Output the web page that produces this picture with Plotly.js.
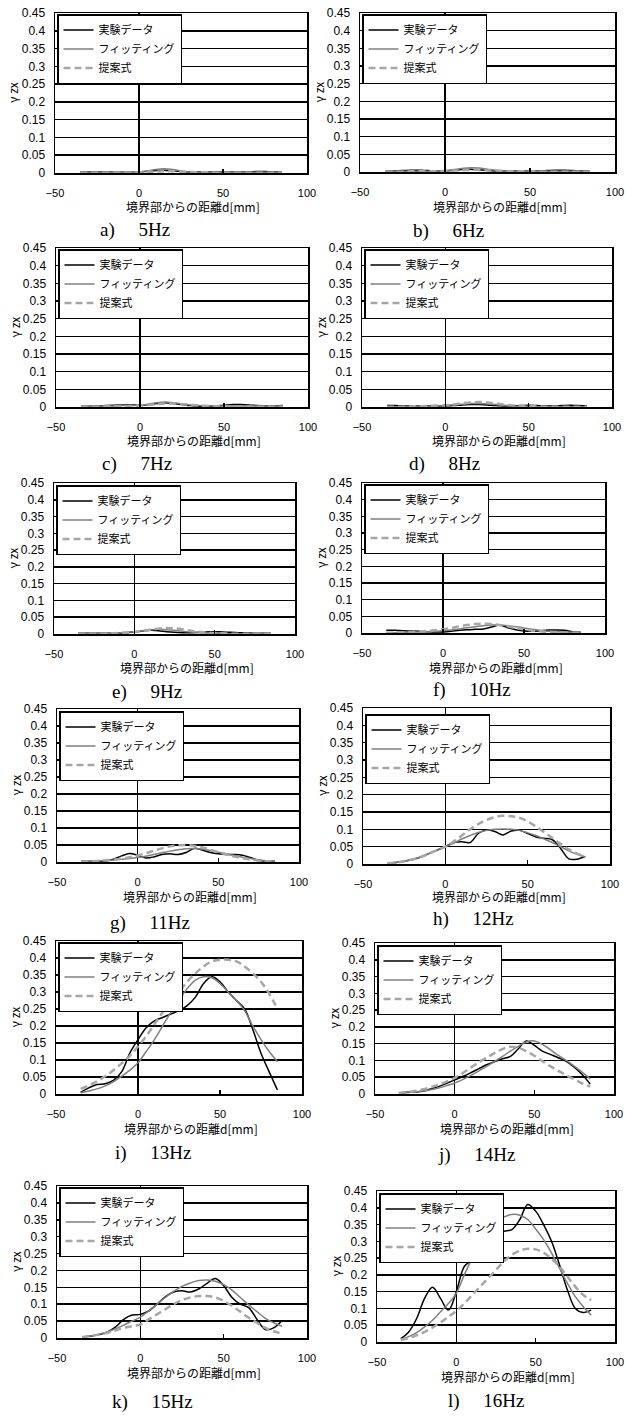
<!DOCTYPE html>
<html><head><meta charset="utf-8">
<script src="https://cdn.plot.ly/plotly-3.0.1.min.js"></script>
<style>html,body{margin:0;padding:0;background:#fff}#chart{width:626px;height:1419px}</style>
</head><body><div id="chart"></div>
<script>
// ---------- data ----------
const distance = [-35,-30,-25,-20,-15,-10,-5,0,5,10,15,20,25,30,35,40,45,50,55,60,65,70,75,80,85];
const panelLabels = ['a)','b)','c)','d)','e)','f)','g)','h)','i)','j)','k)','l)'];
const frequencies = ['5Hz','6Hz','7Hz','8Hz','9Hz','10Hz','11Hz','12Hz','13Hz','14Hz','15Hz','16Hz'];
const seriesNames = ['実験データ','フィッティング','提案式'];
const xTickVals = [-50,0,50,100];
const xTickText = ['−50','0','50','100'];
const yTickVals = [0,0.05,0.1,0.15,0.2,0.25,0.3,0.35,0.4,0.45];
const yTickText = ['0','0.05','0.1','0.15','0.2','0.25','0.3','0.35','0.4','0.45'];
const xAxisTitle = '境界部からの距離d[mm]';
const yAxisTitle = 'γ zx';

const exp5Hz  = [0.003,0.003,0.003,0.003,0.002,0.002,0.002,0.003,0.005,0.007,0.008,0.006,0.004,0.003,0.003,0.003,0.003,0.003,0.003,0.003,0.003,0.004,0.004,0.003,0.003];
const fit5Hz  = [0.002,0.002,0.002,0.002,0.002,0.002,0.002,0.003,0.006,0.010,0.012,0.010,0.006,0.003,0.002,0.002,0.002,0.002,0.002,0.002,0.002,0.002,0.002,0.002,0.002];
const prop5Hz = [0.001,0.001,0.001,0.001,0.001,0.001,0.001,0.002,0.003,0.004,0.005,0.005,0.004,0.003,0.002,0.002,0.001,0.001,0.001,0.001,0.001,0.001,0.001,0.001,0.001];

const exp6Hz  = [0.002,0.003,0.004,0.005,0.005,0.004,0.003,0.003,0.005,0.007,0.008,0.006,0.004,0.003,0.003,0.003,0.003,0.003,0.003,0.004,0.005,0.005,0.004,0.003,0.003];
const fit6Hz  = [0.002,0.002,0.002,0.002,0.002,0.002,0.002,0.004,0.007,0.010,0.012,0.011,0.008,0.005,0.003,0.002,0.002,0.002,0.002,0.002,0.002,0.002,0.002,0.002,0.002];
const prop6Hz = [0.001,0.001,0.001,0.002,0.002,0.002,0.002,0.003,0.004,0.005,0.006,0.006,0.005,0.004,0.003,0.002,0.002,0.002,0.001,0.001,0.001,0.001,0.001,0.001,0.001];

const exp7Hz  = [0.002,0.002,0.003,0.004,0.005,0.006,0.006,0.005,0.007,0.010,0.012,0.010,0.007,0.004,0.002,0.002,0.003,0.005,0.007,0.007,0.006,0.004,0.003,0.003,0.004];
const fit7Hz  = [0.002,0.002,0.002,0.003,0.003,0.004,0.004,0.005,0.008,0.012,0.014,0.012,0.009,0.006,0.004,0.003,0.003,0.003,0.003,0.003,0.003,0.003,0.003,0.003,0.003];
const prop7Hz = [0.001,0.001,0.001,0.002,0.002,0.003,0.003,0.004,0.006,0.008,0.010,0.010,0.008,0.006,0.004,0.003,0.002,0.002,0.001,0.001,0.001,0.001,0.001,0.001,0.001];

const exp8Hz  = [0.004,0.004,0.003,0.003,0.003,0.003,0.003,0.003,0.004,0.006,0.007,0.007,0.006,0.004,0.003,0.003,0.004,0.005,0.004,0.003,0.003,0.004,0.005,0.004,0.003];
const fit8Hz  = [0.001,0.001,0.001,0.002,0.002,0.002,0.003,0.004,0.006,0.008,0.010,0.010,0.009,0.007,0.005,0.003,0.002,0.002,0.001,0.001,0.001,0.001,0.001,0.001,0.001];
const prop8Hz = [0.001,0.001,0.001,0.002,0.002,0.003,0.004,0.005,0.007,0.010,0.013,0.014,0.013,0.010,0.007,0.005,0.003,0.002,0.002,0.001,0.001,0.001,0.001,0.001,0.001];

const exp9Hz  = [0.002,0.002,0.002,0.002,0.002,0.003,0.004,0.006,0.009,0.011,0.010,0.007,0.005,0.004,0.004,0.005,0.006,0.007,0.006,0.005,0.004,0.003,0.002,0.002,0.002];
const fit9Hz  = [0.001,0.001,0.001,0.002,0.002,0.003,0.005,0.007,0.010,0.013,0.014,0.013,0.011,0.008,0.006,0.004,0.003,0.002,0.001,0.001,0.001,0.001,0.001,0.001,0.001];
const prop9Hz = [0.001,0.001,0.001,0.001,0.002,0.003,0.004,0.006,0.009,0.013,0.016,0.018,0.017,0.014,0.010,0.007,0.004,0.003,0.002,0.001,0.001,0.001,0.001,0.001,0.001];

const exp10Hz  = [0.008,0.008,0.007,0.006,0.005,0.004,0.003,0.003,0.005,0.008,0.010,0.011,0.012,0.018,0.024,0.016,0.010,0.006,0.005,0.007,0.009,0.009,0.008,0.004,0.002];
const fit10Hz  = [0.001,0.001,0.002,0.002,0.003,0.004,0.005,0.007,0.009,0.012,0.016,0.019,0.022,0.024,0.024,0.022,0.019,0.015,0.011,0.008,0.005,0.004,0.003,0.002,0.001];
const prop10Hz = [0.001,0.001,0.002,0.003,0.004,0.006,0.008,0.011,0.015,0.020,0.024,0.027,0.028,0.027,0.024,0.020,0.015,0.011,0.007,0.005,0.003,0.002,0.001,0.001,0.001];

const exp11Hz  = [0.002,0.002,0.002,0.003,0.008,0.018,0.025,0.020,0.012,0.015,0.022,0.024,0.022,0.028,0.040,0.035,0.028,0.024,0.022,0.022,0.020,0.013,0.005,0.002,0.002];
const fit11Hz  = [0.001,0.002,0.003,0.004,0.006,0.008,0.010,0.013,0.017,0.022,0.027,0.032,0.036,0.039,0.040,0.038,0.034,0.029,0.024,0.019,0.014,0.010,0.006,0.004,0.002];
const prop11Hz = [0.001,0.002,0.003,0.005,0.007,0.010,0.014,0.019,0.026,0.033,0.040,0.046,0.049,0.050,0.048,0.043,0.036,0.029,0.022,0.016,0.011,0.007,0.004,0.002,0.001];

const exp12Hz  = [0.002,0.004,0.008,0.013,0.020,0.030,0.040,0.050,0.062,0.064,0.062,0.088,0.098,0.094,0.084,0.095,0.097,0.088,0.078,0.074,0.070,0.045,0.015,0.014,0.022];
const fit12Hz  = [0.002,0.004,0.008,0.013,0.020,0.030,0.040,0.050,0.060,0.072,0.082,0.091,0.097,0.100,0.101,0.100,0.097,0.090,0.082,0.072,0.062,0.050,0.038,0.028,0.020];
const prop12Hz = [0.002,0.004,0.008,0.013,0.020,0.030,0.040,0.050,0.065,0.082,0.100,0.115,0.127,0.135,0.139,0.138,0.133,0.123,0.108,0.092,0.075,0.058,0.042,0.030,0.020];

const exp13Hz  = [0.005,0.018,0.028,0.030,0.040,0.065,0.120,0.160,0.195,0.215,0.225,0.235,0.245,0.260,0.285,0.325,0.345,0.330,0.300,0.275,0.250,0.190,0.120,0.065,0.012];
const fit13Hz  = [0.004,0.009,0.015,0.024,0.036,0.052,0.070,0.092,0.125,0.160,0.200,0.240,0.275,0.310,0.335,0.345,0.342,0.325,0.300,0.275,0.245,0.200,0.160,0.125,0.095];
const prop13Hz = [0.015,0.025,0.037,0.052,0.070,0.090,0.112,0.140,0.170,0.205,0.240,0.270,0.300,0.330,0.355,0.375,0.390,0.395,0.395,0.390,0.375,0.355,0.330,0.295,0.250];

const exp14Hz  = [0.004,0.005,0.006,0.008,0.015,0.022,0.032,0.042,0.052,0.063,0.075,0.087,0.096,0.105,0.112,0.135,0.158,0.145,0.128,0.118,0.108,0.097,0.080,0.058,0.030];
const fit14Hz  = [0.003,0.004,0.006,0.009,0.013,0.018,0.025,0.033,0.043,0.055,0.068,0.082,0.097,0.112,0.128,0.142,0.155,0.158,0.148,0.132,0.115,0.100,0.083,0.065,0.045];
const prop14Hz = [0.003,0.005,0.009,0.014,0.020,0.028,0.037,0.048,0.062,0.078,0.094,0.108,0.122,0.134,0.141,0.138,0.127,0.114,0.098,0.083,0.069,0.056,0.044,0.032,0.022];

const exp15Hz  = [0.003,0.005,0.010,0.017,0.032,0.055,0.068,0.070,0.080,0.100,0.122,0.136,0.140,0.136,0.145,0.162,0.176,0.155,0.120,0.100,0.090,0.055,0.025,0.030,0.052];
const fit15Hz  = [0.003,0.006,0.011,0.018,0.027,0.038,0.050,0.062,0.080,0.100,0.120,0.138,0.153,0.163,0.170,0.172,0.168,0.158,0.142,0.120,0.098,0.078,0.058,0.045,0.035];
const prop15Hz = [0.003,0.006,0.010,0.015,0.022,0.030,0.035,0.040,0.055,0.070,0.085,0.100,0.112,0.120,0.124,0.124,0.120,0.110,0.095,0.078,0.060,0.045,0.030,0.020,0.012];

const exp16Hz  = [0.010,0.030,0.070,0.130,0.163,0.130,0.095,0.150,0.225,0.245,0.265,0.300,0.322,0.330,0.335,0.365,0.410,0.390,0.350,0.300,0.230,0.155,0.100,0.088,0.095];
const fit16Hz  = [0.008,0.016,0.028,0.045,0.065,0.090,0.115,0.145,0.200,0.250,0.295,0.330,0.355,0.372,0.380,0.378,0.365,0.337,0.305,0.265,0.220,0.175,0.135,0.105,0.080];
const prop16Hz = [0.006,0.012,0.020,0.030,0.043,0.058,0.075,0.093,0.115,0.140,0.165,0.190,0.215,0.240,0.260,0.272,0.278,0.276,0.266,0.248,0.225,0.195,0.165,0.140,0.125];

const panelSeries = [
  [exp5Hz, fit5Hz, prop5Hz], [exp6Hz, fit6Hz, prop6Hz],
  [exp7Hz, fit7Hz, prop7Hz], [exp8Hz, fit8Hz, prop8Hz],
  [exp9Hz, fit9Hz, prop9Hz], [exp10Hz, fit10Hz, prop10Hz],
  [exp11Hz, fit11Hz, prop11Hz], [exp12Hz, fit12Hz, prop12Hz],
  [exp13Hz, fit13Hz, prop13Hz], [exp14Hz, fit14Hz, prop14Hz],
  [exp15Hz, fit15Hz, prop15Hz], [exp16Hz, fit16Hz, prop16Hz]
];

// ---------- layout geometry (pixels: left, right, top, bottom of plot box) ----------
const W = 626, H = 1419;
const boxes = [
  [55,307,13,173],[360,615,13,172],
  [56,308,248,407],[362,612,248,407],
  [54,295,483,634],[362,605,483,633],
  [57,299,709,862],[363,610,708,864],
  [56,302,941,1094],[375,614,943,1094],
  [57,307,1186,1338],[377,615,1191,1342]
];
const captionPos = [
  [98,230],[411,231],[100,464],[407,464],[110,692],[431,690],
  [108,923],[431,919],[113,1153],[436,1155],[110,1402],[446,1401]
];
const titleGap = [34,34,34,34,34,34,34,32,34,34,34,34];
const legendOffsetY = [1,1,1,1,2,1,2,6,1,2,1,2];

const lineStyles = [
  {color:'#000000', width:1.5},
  {color:'#7f7f7f', width:1.5},
  {color:'#a6a6a6', width:2.5, dash:'7px,4px'}
];

const traces = [];
const layout = {
  width: W, height: H,
  margin: {l:0, r:0, t:0, b:0, pad:0},
  paper_bgcolor: '#ffffff', plot_bgcolor: '#ffffff',
  showlegend: true,
  font: {family: 'Liberation Sans, Arial, sans-serif', color: '#000'},
  annotations: []
};

boxes.forEach((b, p) => {
  const n = p + 1;
  const xs = n === 1 ? '' : String(n);
  const [L, R, T, B] = b;
  const legId = 'legend' + xs;

  layout['xaxis' + xs] = {
    domain: [L / W, R / W], anchor: 'y' + xs,
    range: [-50, 100], tickvals: xTickVals, ticktext: xTickText,
    ticks: 'inside', ticklen: 4, tickwidth: 1.5, tickcolor: '#000',
    showgrid: false, zeroline: true, zerolinecolor: '#000', zerolinewidth: 1.5,
    showline: true, mirror: true, linecolor: '#000', linewidth: 1.5,
    tickfont: {family: 'Liberation Sans, Arial, sans-serif', size: 11, color: '#000'},
    ticklabelstandoff: 9, ticklabeloverflow: 'allow', fixedrange: true
  };
  layout['yaxis' + xs] = {
    domain: [1 - B / H, 1 - T / H], anchor: 'x' + xs,
    range: [0, 0.45], tickvals: yTickVals, ticktext: yTickText,
    ticks: '', showgrid: true, gridcolor: '#000', gridwidth: 1.5,
    zeroline: false, showline: true, mirror: true, linecolor: '#000', linewidth: 1.5,
    tickfont: {family: 'Liberation Sans, Arial, sans-serif', size: 12, color: '#000'},
    ticklabelstandoff: 6, ticklabeloverflow: 'allow', fixedrange: true
  };
  layout[legId] = {
    x: (L + 2) / W, y: 1 - (T + legendOffsetY[p]) / H,
    xanchor: 'left', yanchor: 'top',
    bgcolor: '#ffffff', bordercolor: '#000', borderwidth: 1.5,
    font: {family: 'Noto Sans CJK JP, sans-serif', size: 11, color: '#000'},
    tracegroupgap: 0, itemwidth: 30
  };

  panelSeries[p].forEach((ys, s) => {
    traces.push({
      type: 'scatter', mode: 'lines',
      x: distance, y: ys,
      name: seriesNames[s],
      xaxis: 'x' + xs, yaxis: 'y' + xs,
      legend: legId, showlegend: true,
      line: Object.assign({shape: 'spline', smoothing: 1}, lineStyles[s]),
      hoverinfo: 'skip'
    });
  });

  // x-axis title
  layout.annotations.push({
    text: xAxisTitle, xref: 'paper', yref: 'paper',
    x: ((L + R) / 2 + 12) / W, y: 1 - (B + titleGap[p]) / H,
    xanchor: 'center', yanchor: 'middle', showarrow: false,
    font: {family: 'Noto Sans CJK JP, sans-serif', size: 12, color: '#000'}
  });
  // y-axis title
  layout.annotations.push({
    text: yAxisTitle, xref: 'paper', yref: 'paper',
    x: (L - 42) / W, y: 1 - ((T + B) / 2) / H,
    xanchor: 'center', yanchor: 'middle', showarrow: false, textangle: -90,
    font: {family: 'Noto Sans CJK JP, sans-serif', size: 12, color: '#000'}
  });
  // caption
  layout.annotations.push({
    text: panelLabels[p] + '\u00a0\u00a0\u00a0\u00a0\u00a0' + frequencies[p],
    xref: 'paper', yref: 'paper',
    x: captionPos[p][0] / W, y: 1 - captionPos[p][1] / H,
    xanchor: 'left', yanchor: 'middle', showarrow: false,
    font: {family: 'Liberation Serif, Times New Roman, serif', size: 19, color: '#000'}
  });
});

Plotly.newPlot('chart', traces, layout, {staticPlot: true, displayModeBar: false});
</script>
</body></html>
